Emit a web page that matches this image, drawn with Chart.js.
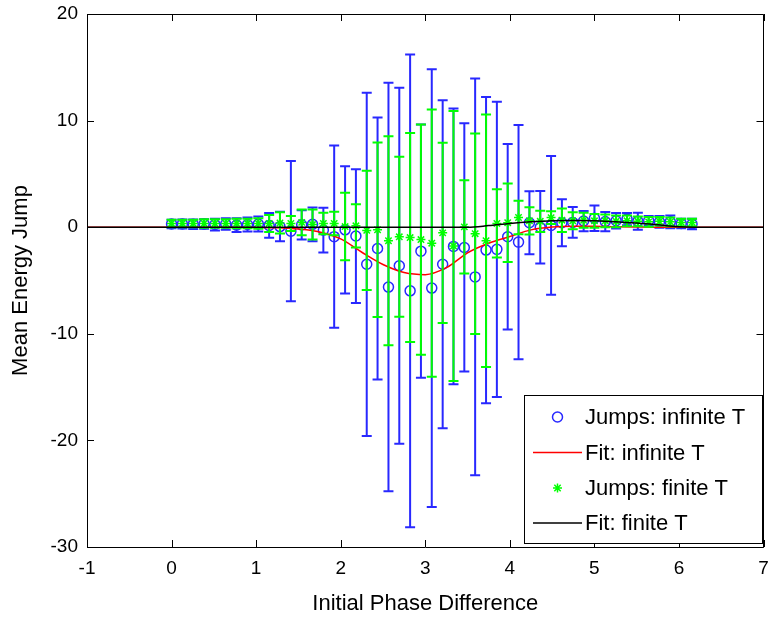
<!DOCTYPE html>
<html><head><meta charset="utf-8">
<script src="https://cdn.jsdelivr.net/npm/chart.js@4.4.0/dist/chart.umd.min.js"></script>
<style>html,body{margin:0;padding:0;background:#fff}canvas{display:block}</style>
</head><body>
<canvas id="c" width="770" height="618"></canvas>
<script>
// ---- data ----
const phase = [0,0.128,0.256,0.385,0.513,0.641,0.769,0.898,1.026,1.154,1.282,1.411,1.539,1.667,1.795,1.923,2.052,2.180,2.308,2.436,2.565,2.693,2.821,2.949,3.077,3.206,3.334,3.462,3.590,3.719,3.847,3.975,4.103,4.232,4.360,4.488,4.616,4.744,4.873,5.001,5.129,5.257,5.386,5.514,5.642,5.770,5.898,6.027,6.155];
const infMean = [0.30,0.30,0.28,0.30,0.25,0.30,0.20,0.25,0.30,0.17,0.06,-0.37,0.22,0.27,-0.27,-0.89,-0.25,-0.83,-3.48,-2.00,-5.62,-3.62,-5.97,-2.25,-5.71,-3.48,-1.80,-1.90,-4.66,-2.15,-2.08,-0.90,-1.40,0.42,0.00,0.17,0.42,0.45,0.58,0.84,0.53,0.60,0.76,0.55,0.60,0.50,0.50,0.35,0.30];
const infErr = [0.40,0.42,0.45,0.45,0.55,0.55,0.65,0.65,0.70,1.17,1.38,6.57,1.38,1.58,2.10,8.55,5.97,6.27,16.10,12.29,19.16,16.70,22.17,11.88,20.53,15.39,12.93,11.64,18.60,14.37,13.84,8.70,10.98,2.96,3.40,6.50,2.20,1.45,0.95,1.20,0.90,0.73,0.57,0.80,0.45,0.55,0.60,0.45,0.50];
const finMean = [0.35,0.35,0.35,0.35,0.35,0.35,0.35,0.35,0.35,0.35,0.40,0.35,0.45,0.25,0.35,0.35,0.06,0.13,-0.30,-0.24,-1.27,-0.90,-0.97,-1.16,-1.50,-0.53,-1.76,0.03,-0.61,-1.27,0.35,0.42,0.91,0.60,0.55,0.90,0.66,0.60,0.65,0.60,0.60,0.55,0.60,0.55,0.50,0.55,0.50,0.45,0.45];
const finErr = [0.35,0.35,0.35,0.40,0.40,0.40,0.45,0.45,0.50,0.80,1.00,0.70,1.20,1.41,1.00,1.10,3.16,2.03,5.60,8.18,9.80,7.50,9.80,10.80,12.54,8.45,12.66,4.38,9.40,11.85,3.20,3.68,1.56,1.28,1.00,0.60,1.10,0.80,0.70,0.65,0.60,0.55,0.50,0.45,0.45,0.40,0.40,0.35,0.35];
const fitX   = [-1,-0.5,0,0.5,1,1.25,1.5,1.75,2,2.25,2.5,2.75,3,3.25,3.5,3.75,4,4.25,4.5,4.75,5,5.25,5.5,5.75,6,6.5,7];
const fitInf = [0,0,0,0,-0.02,-0.06,-0.18,-0.45,-1.1,-2.35,-3.5,-4.25,-4.45,-3.8,-2.4,-1.5,-0.88,-0.25,0.02,0.1,0.1,0.05,0.02,0,0,0,0];
const fitFin = [0,0,0,0,0,0,0,0,0,0,0,0,0,0,0,0.15,0.35,0.5,0.6,0.62,0.6,0.5,0.4,0.22,0.05,0,0];
const xTicks = [-1,0,1,2,3,4,5,6,7];
const yTicks = [-30,-20,-10,0,10,20];
const seriesNames = ['Jumps: infinite T','Fit: infinite T','Jumps: finite T','Fit: finite T'];
const xTitle = 'Initial Phase Difference';
const yTitle = 'Mean Energy Jump';

const BLUE = '#2828ff', GREEN = '#00ff00', RED = '#ff0000', BLACK = '#000000';
const FONT = "'Liberation Sans', Arial, sans-serif";

const pts = (xs, ys) => xs.map((x, i) => ({x: x, y: ys[i]}));

const errorBars = {
  id: 'errorBars',
  beforeDatasetDraw(chart, args) {
    const ds = chart.data.datasets[args.index];
    if (!ds.errors) return;
    const xs = chart.scales.x, ys = chart.scales.y, ctx = chart.ctx;
    const cap = 5;
    ctx.save();
    ctx.strokeStyle = ds.borderColor;
    ctx.lineWidth = 2;
    ds.data.forEach((p, i) => {
      const e = ds.errors[i];
      const px = xs.getPixelForValue(p.x);
      const t = ys.getPixelForValue(p.y + e), b = ys.getPixelForValue(p.y - e);
      ctx.beginPath();
      ctx.moveTo(px, t); ctx.lineTo(px, b);
      ctx.moveTo(px - cap, t); ctx.lineTo(px + cap, t);
      ctx.moveTo(px - cap, b); ctx.lineTo(px + cap, b);
      ctx.stroke();
    });
    ctx.restore();
  }
};

const frame = {
  id: 'frame',
  afterDraw(chart) {
    const ctx = chart.ctx, a = chart.chartArea, xs = chart.scales.x, ys = chart.scales.y;
    const tl = 7;
    ctx.save();
    ctx.strokeStyle = '#000';
    ctx.lineWidth = 1;
    ctx.beginPath();
    ctx.rect(Math.round(a.left) + 0.5, Math.round(a.top) + 0.5, Math.round(a.right - a.left) - 1, Math.round(a.bottom - a.top));
    xTicks.forEach(v => {
      const px = Math.round(xs.getPixelForValue(v)) + 0.5;
      ctx.moveTo(px, a.bottom); ctx.lineTo(px, a.bottom - tl);
      ctx.moveTo(px, a.top); ctx.lineTo(px, a.top + tl);
    });
    yTicks.forEach(v => {
      const py = Math.round(ys.getPixelForValue(v)) + 0.5;
      ctx.moveTo(a.left, py); ctx.lineTo(a.left + tl, py);
      ctx.moveTo(a.right, py); ctx.lineTo(a.right - tl, py);
    });
    ctx.stroke();

    // legend
    const L = 524.5, T = 395.5, R = 762.5, B = 543.5;
    ctx.fillStyle = '#fff';
    ctx.fillRect(L, T, R - L, B - T);
    ctx.strokeRect(L, T, R - L, B - T);
    const rows = [417, 452.5, 488, 523];
    const ds = chart.data.datasets;
    ctx.font = '22px ' + FONT;
    ctx.textBaseline = 'middle';
    ctx.textAlign = 'left';
    ds.forEach((d, i) => {
      const y = rows[i];
      if (d.showLine) {
        ctx.strokeStyle = d.borderColor; ctx.lineWidth = 1.5;
        ctx.beginPath(); ctx.moveTo(533, y); ctx.lineTo(582, y); ctx.stroke();
      } else {
        ctx.fillStyle = 'rgba(0,0,0,0)';
        ctx.strokeStyle = d.borderColor; ctx.lineWidth = 1.5;
        Chart.helpers.drawPoint(ctx, {pointStyle: d.pointStyle, radius: d.pointRadius, borderWidth: 1.5, rotation: 0}, 557.5, y);
      }
      ctx.fillStyle = '#000';
      ctx.fillText(seriesNames[i], 585, y + 1);
    });
    ctx.restore();
  }
};

new Chart(document.getElementById('c'), {
  type: 'scatter',
  data: {
    datasets: [
      {label: seriesNames[0], data: pts(phase, infMean), errors: infErr, showLine: false,
       pointStyle: 'circle', pointRadius: 5, borderColor: BLUE, backgroundColor: 'rgba(0,0,0,0)',
       pointBorderWidth: 1.5, order: 4},
      {label: seriesNames[1], data: pts(fitX, fitInf), showLine: true, pointRadius: 0,
       borderColor: RED, borderWidth: 1.5, cubicInterpolationMode: 'monotone', order: 3},
      {label: seriesNames[2], data: pts(phase, finMean), errors: finErr, showLine: false,
       pointStyle: 'star', pointRadius: 4.5, borderColor: GREEN, backgroundColor: GREEN,
       pointBorderWidth: 1.5, order: 2},
      {label: seriesNames[3], data: pts(fitX, fitFin), showLine: true, pointRadius: 0,
       borderColor: BLACK, borderWidth: 1.5, cubicInterpolationMode: 'monotone', order: 1}
    ]
  },
  options: {
    responsive: false,
    animation: false,
    devicePixelRatio: 1,
    events: [],
    layout: {padding: {left: 0, right: 3, top: 14, bottom: 0}},
    plugins: {legend: {display: false}, tooltip: {enabled: false}},
    scales: {
      x: {
        type: 'linear', min: -1, max: 7,
        grid: {display: false, drawTicks: false}, border: {display: false},
        ticks: {stepSize: 1, color: '#000', padding: 10, font: {family: FONT, size: 19}},
        afterBuildTicks: s => { s.ticks = xTicks.map(v => ({value: v})); },
        title: {display: true, text: xTitle, color: '#000', font: {family: FONT, size: 22}, padding: {top: 0, bottom: 1}},
        afterFit: s => { s.height = 71; s.paddingLeft = 0; s.paddingRight = 0; }
      },
      y: {
        type: 'linear', min: -30, max: 20,
        grid: {display: false, drawTicks: false}, border: {display: false},
        ticks: {stepSize: 10, color: '#000', padding: 9, font: {family: FONT, size: 19}},
        afterBuildTicks: s => { s.ticks = yTicks.map(v => ({value: v})); },
        title: {display: true, text: yTitle, color: '#000', font: {family: FONT, size: 22}, padding: {top: 8, bottom: 0}},
        afterFit: s => { s.width = 87; s.paddingTop = 0; s.paddingBottom = 0; }
      }
    }
  },
  plugins: [errorBars, frame]
});
</script>
</body></html>
